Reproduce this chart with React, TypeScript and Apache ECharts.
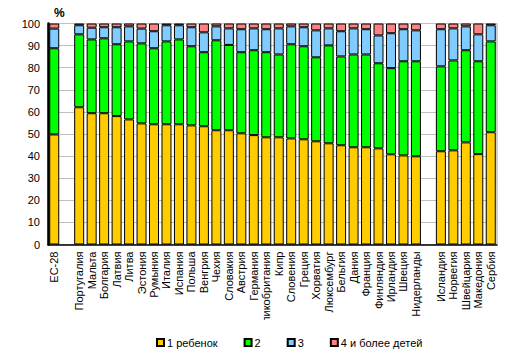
import React, { useEffect, useRef } from "react";
import * as echarts from "echarts";

const categories = [
  "ЕС-28", "",
  "Португалия", "Мальта", "Болгария", "Латвия", "Литва", "Эстония", "Румыния", "Италия",
  "Испания", "Польша", "Венгрия", "Чехия", "Словакия", "Австрия", "Германия", "Великобритания",
  "Кипр", "Словения", "Греция", "Хорватия", "Люксембург", "Бельгия", "Дания", "Франция",
  "Финляндия", "Ирландия", "Швеция", "Нидерланды", " ",
  "Исландия", "Норвегия", "Швейцария", "Македония", "Сербия",
];

const oneChild = [
  49.8, null,
  62.1, 59.4, 59.4, 58.1, 56.6, 54.8, 54.4, 54.4,
  54.4, 53.9, 53.5, 51.7, 51.7, 50.3, 49.5, 48.5,
  48.5, 48.0, 47.6, 46.7, 45.8, 44.9, 44.0, 44.0,
  43.5, 40.8, 40.3, 39.9, null,
  42.2, 42.6, 46.2, 40.9, 50.8,
];
const twoChildren = [
  39.0, null,
  33.0, 33.4, 33.9, 32.5, 35.3, 36.2, 34.4, 37.5,
  38.4, 35.8, 33.5, 40.7, 38.6, 36.7, 38.4, 38.5,
  37.5, 42.6, 42.1, 38.0, 44.3, 40.2, 42.0, 42.0,
  38.5, 39.0, 42.6, 43.0, null,
  38.4, 40.7, 41.7, 42.0, 41.1,
];
const threeChildren = [
  8.9, null,
  4.1, 5.3, 5.0, 7.7, 6.8, 6.7, 7.7, 7.3,
  6.4, 8.6, 9.0, 6.3, 7.5, 10.4, 9.9, 10.4,
  11.8, 8.1, 8.6, 12.2, 7.7, 11.4, 11.8, 11.4,
  12.6, 15.8, 14.5, 14.0, null,
  16.8, 14.5, 10.8, 12.2, 7.3,
];
const fourPlus = [
  2.3, null,
  0.8, 1.9, 1.7, 1.7, 1.3, 2.3, 3.5, 0.8,
  0.8, 1.7, 4.0, 1.3, 2.2, 2.6, 2.2, 2.6,
  2.2, 1.3, 1.7, 3.1, 2.2, 3.5, 2.2, 2.6,
  5.4, 4.4, 2.6, 3.1, null,
  2.6, 2.2, 1.3, 4.9, 0.8,
];

const seriesNames = ["1 ребенок", "2", "3", "4 и более детей"];
const seriesColors = ["#FFCC00", "#00FF00", "#80CCFF", "#FF8080"];
const seriesData = [oneChild, twoChildren, threeChildren, fourPlus];

export default function App() {
  const ref = useRef<HTMLDivElement>(null);
  useEffect(() => {
    document.body.style.margin = "0";
    if (!ref.current) return;
    const chart = echarts.init(ref.current, null, { renderer: "svg" });
    const font = "Arial, 'Liberation Sans', sans-serif";
    chart.setOption({
      animation: false,
      textStyle: { fontFamily: font },
      grid: {
        left: 48,
        right: 15,
        top: 23.5,
        bottom: 112.5,
        show: true,
        borderColor: "#A0A0A0",
        borderWidth: 1,
      },
      legend: {
        left: 151,
        top: 332,
        z: 200,
        itemWidth: 7,
        itemHeight: 7,
        itemGap: 26,
        icon: "rect",
        textStyle: { fontSize: 11, color: "#000", fontFamily: font, padding: [0, 0, 0, -2] },
        data: seriesNames,
      },
      graphic: [
        {
          type: "text",
          left: 54,
          top: 7,
          style: { text: "%", fontSize: 12, fontWeight: "bold", fill: "#000", fontFamily: font },
        },
        {
          type: "rect",
          z: 100,
          shape: { x: 48, y: 320, width: 455, height: 22 },
          style: { fill: "#fff" },
        },
      ],
      xAxis: {
        type: "category",
        data: categories,
        axisLine: { lineStyle: { color: "#000", width: 1.5 } },
        axisTick: { show: false },
        axisLabel: {
          interval: 0,
          rotate: 90,
          fontSize: 11,
          color: "#000",
          margin: 7,
          fontFamily: font,
        },
      },
      yAxis: {
        type: "value",
        min: 0,
        max: 100,
        interval: 10,
        axisLine: { show: true, lineStyle: { color: "#000", width: 2.5 } },
        axisTick: { show: false },
        axisLabel: { fontSize: 11, color: "#000", margin: 8, fontFamily: font },
        splitLine: { lineStyle: { color: "#C0C0C0", width: 1 } },
      },
      series: seriesNames.map((name, i) => ({
        name,
        type: "bar",
        stack: "total",
        barWidth: 10,
        data: seriesData[i],
        itemStyle: { color: seriesColors[i], borderColor: "#000", borderWidth: 1 },
      })),
    });
    return () => chart.dispose();
  }, []);
  return <div ref={ref} style={{ width: 512, height: 357 }} />;
}
